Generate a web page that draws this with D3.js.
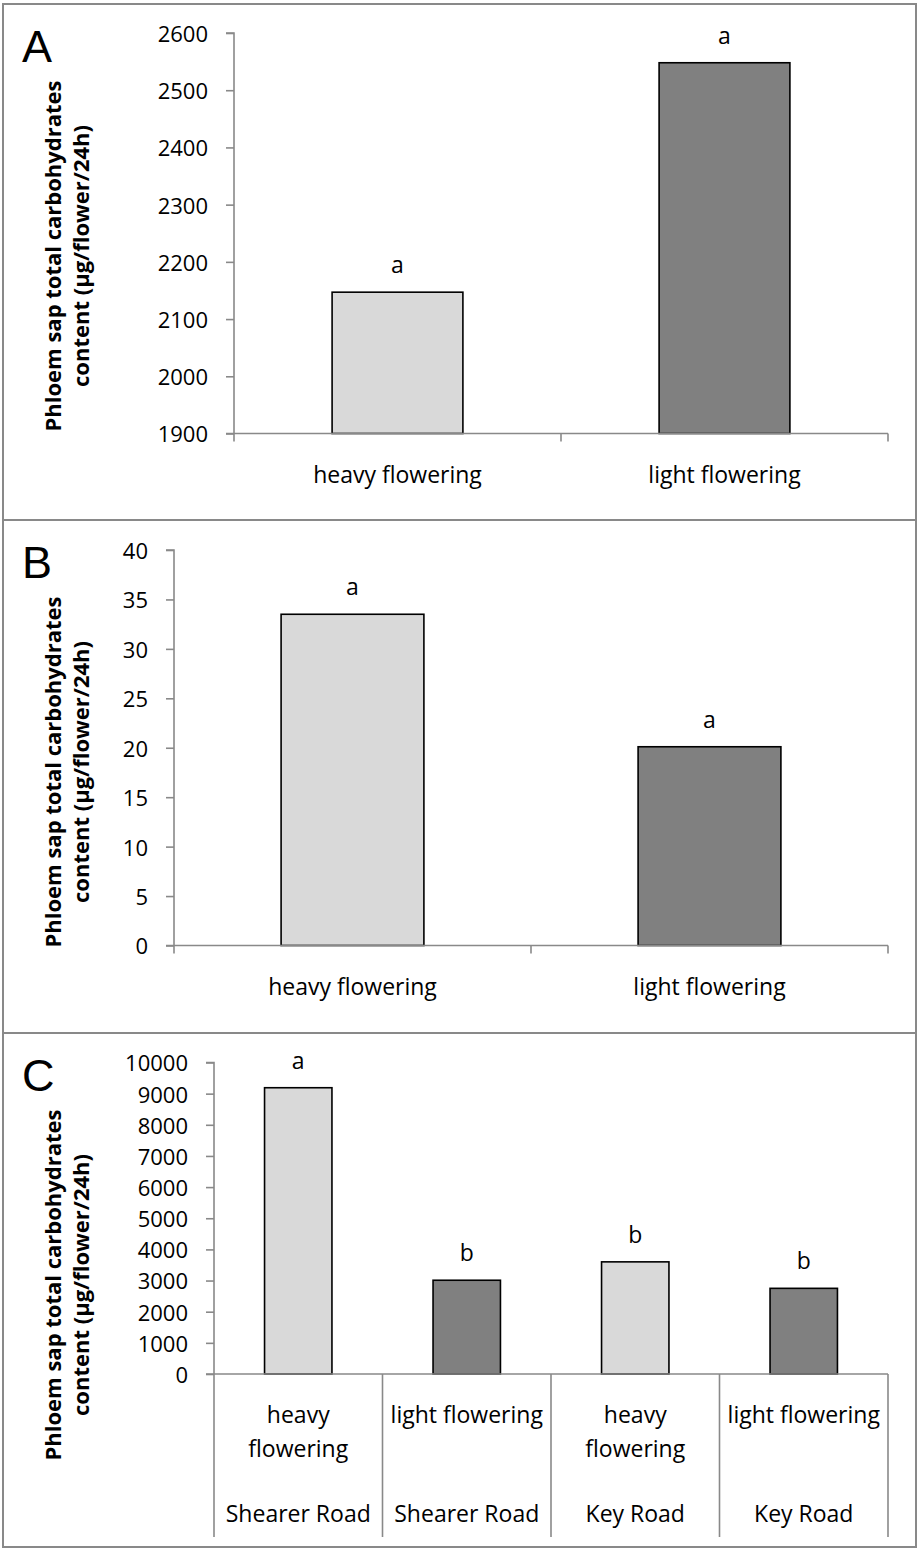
<!DOCTYPE html>
<html>
<head>
<meta charset="utf-8">
<script src="https://cdn.jsdelivr.net/npm/d3@7"></script>
<style>
  html, body { margin: 0; padding: 0; background: #fff; }
  svg { display: block; }
</style>
</head>
<body>
<svg id="chart" width="917" height="1548"></svg>
<script>
// ---------------- DATA ----------------
const categoriesAB = ["heavy flowering", "light flowering"];
const valuesA = [2147, 2548];
const lettersA = ["a", "a"];
const ticksA = [1900, 2000, 2100, 2200, 2300, 2400, 2500, 2600];

const valuesB = [33.5, 20.1];
const lettersB = ["a", "a"];
const ticksB = [0, 5, 10, 15, 20, 25, 30, 35, 40];

const categoriesC = ["heavy flowering", "light flowering", "heavy flowering", "light flowering"];
const sitesC = ["Shearer Road", "Shearer Road", "Key Road", "Key Road"];
const valuesC = [9190, 3010, 3600, 2750];
const lettersC = ["a", "b", "b", "b"];
const ticksC = [0, 1000, 2000, 3000, 4000, 5000, 6000, 7000, 8000, 9000, 10000];

const panelLetters = ["A", "B", "C"];
const yTitleLines = ["Phloem sap total carbohydrates", "content (µg/flower/24h)"];
// --------------------------------------

const svg = d3.select("#chart");
const FONT = "'Open Sans', sans-serif";
const AXIS_COLOR = "#898989";
const fillScale = d3.scaleOrdinal()
  .domain(["heavy flowering", "light flowering"])
  .range(["#D9D9D9", "#808080"]);

// Frame
svg.append("rect").attr("x", 3).attr("y", 4).attr("width", 913).attr("height", 1543)
  .attr("fill", "none").attr("stroke", AXIS_COLOR).attr("stroke-width", 2);
[520, 1033].forEach(y => {
  svg.append("line").attr("x1", 3).attr("x2", 916).attr("y1", y).attr("y2", y)
    .attr("stroke", AXIS_COLOR).attr("stroke-width", 2);
});

function panel(cfg) {
  const g = svg.append("g");
  const ids = cfg.values.map((d, i) => i);
  const x = d3.scaleBand().domain(ids).range([cfg.x0, cfg.x1]).paddingInner(0).paddingOuter(0);
  const y = d3.scaleLinear().domain(cfg.domain).range([cfg.yBottom, cfg.yTop]);
  const bw = x.bandwidth() * 0.4;

  // bars
  g.selectAll("rect.bar").data(ids).enter().append("rect")
    .attr("class", "bar")
    .attr("x", i => x(i) + (x.bandwidth() - bw) / 2)
    .attr("width", bw)
    .attr("y", i => y(cfg.values[i]))
    .attr("height", i => y(cfg.domain[0]) - y(cfg.values[i]))
    .attr("fill", i => fillScale(cfg.cats[i]))
    .attr("stroke", "#000").attr("stroke-width", 1.6);

  // letters
  g.selectAll("text.sig").data(ids).enter().append("text")
    .attr("class", "sig")
    .attr("x", i => x(i) + x.bandwidth() / 2)
    .attr("y", i => y(cfg.values[i]) - 19)
    .attr("text-anchor", "middle")
    .attr("font-family", FONT).attr("font-size", 23).attr("fill", "#000")
    .text(i => cfg.letters[i]);

  // y axis
  const yAxis = d3.axisLeft(y).tickValues(cfg.ticks).tickSize(8).tickPadding(18)
    .tickFormat(d3.format("d"));
  const ya = g.append("g").attr("transform", `translate(${cfg.x0},0)`).call(yAxis);
  ya.select(".domain").attr("stroke", AXIS_COLOR).attr("stroke-width", 1.6)
    .attr("d", `M-8,${cfg.yTop}H0V${cfg.yBottom}`);
  ya.selectAll(".tick line").attr("stroke", AXIS_COLOR).attr("stroke-width", 1.6);
  ya.selectAll(".tick text").attr("font-family", FONT).attr("font-size", 22)
    .attr("fill", "#000").attr("dy", "0.38em");

  // x axis
  const xa = g.append("g").attr("transform", `translate(0,${cfg.yBottom})`);
  xa.append("line").attr("x1", cfg.x0 - 8).attr("x2", cfg.x1).attr("y1", 0).attr("y2", 0)
    .attr("stroke", AXIS_COLOR).attr("stroke-width", 1.6);
  const bounds = ids.map(i => x(i)).concat([cfg.x1]);
  xa.selectAll("line.xt").data(bounds).enter().append("line")
    .attr("class", "xt")
    .attr("x1", d => d).attr("x2", d => d).attr("y1", 0).attr("y2", cfg.xTickLen)
    .attr("stroke", AXIS_COLOR).attr("stroke-width", 1.6);

  // category labels (with wrapping)
  ids.forEach(i => {
    const cx = x(i) + x.bandwidth() / 2;
    const t = xa.append("text").attr("x", cx).attr("y", 49)
      .attr("text-anchor", "middle").attr("font-family", FONT).attr("font-size", 23)
      .attr("fill", "#000").text(cfg.cats[i]);
    if (t.node().getComputedTextLength() > x.bandwidth() - 8) {
      const words = cfg.cats[i].split(" ");
      t.text(null);
      words.forEach((w, k) => {
        t.append("tspan").attr("x", cx).attr("dy", k === 0 ? 0 : 34).text(w);
      });
    }
    if (cfg.sites) {
      xa.append("text").attr("x", cx).attr("y", 148)
        .attr("text-anchor", "middle").attr("font-family", FONT).attr("font-size", 23)
        .attr("fill", "#000").text(cfg.sites[i]);
    }
  });

  // panel letter
  svg.append("text").attr("x", 22).attr("y", cfg.top + 58)
    .attr("font-family", "'Liberation Sans', Arial, sans-serif").attr("font-size", 45)
    .attr("fill", "#000").text(cfg.letter);

  // y title
  const cy = cfg.top + 252;
  [61, 89].forEach((bx, k) => {
    svg.append("text")
      .attr("transform", `translate(${bx},${cy}) rotate(-90)`)
      .attr("text-anchor", "middle")
      .attr("font-family", FONT).attr("font-weight", "bold").attr("font-size", 22)
      .attr("fill", "#000").text(yTitleLines[k]);
  });
}

panel({ top: 4, letter: panelLetters[0], values: valuesA, cats: categoriesAB, letters: lettersA,
  ticks: ticksA, domain: [1900, 2600], x0: 234, x1: 888, yTop: 33, yBottom: 433.5, xTickLen: 8 });
panel({ top: 520, letter: panelLetters[1], values: valuesB, cats: categoriesAB, letters: lettersB,
  ticks: ticksB, domain: [0, 40], x0: 174, x1: 888, yTop: 550, yBottom: 945.5, xTickLen: 8 });
panel({ top: 1033, letter: panelLetters[2], values: valuesC, cats: categoriesC, sites: sitesC,
  letters: lettersC, ticks: ticksC, domain: [0, 10000], x0: 214, x1: 888, yTop: 1062.5,
  yBottom: 1374, xTickLen: 163 });
</script>
</body>
</html>
